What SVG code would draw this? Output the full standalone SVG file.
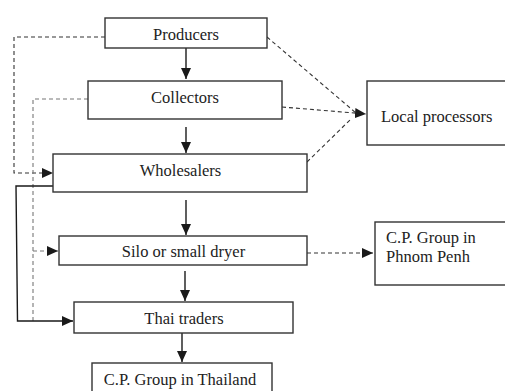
<svg xmlns="http://www.w3.org/2000/svg" width="505" height="391" viewBox="0 0 505 391">
<defs>
<marker id="ah" markerUnits="userSpaceOnUse" markerWidth="12" markerHeight="10" refX="11" refY="5" orient="auto">
<path d="M0,0 L11,5 L0,10 Z" fill="#1a1a1a"/>
</marker>
</defs>
<style>
.box{fill:#fff;stroke:#333;stroke-width:1.4}
.t{font-family:"Liberation Serif","Times New Roman",serif;font-size:16.5px;fill:#222}
.c{text-anchor:middle}
.s{fill:none;stroke:#1a1a1a;stroke-width:1.4}
.d{fill:none;stroke:#333;stroke-width:1.1;stroke-dasharray:4 3}
.g{fill:none;stroke:#777;stroke-width:1.1;stroke-dasharray:4 3}
</style>
<rect width="505" height="391" fill="#fff"/>
<g id="connectors">
<line class="s" x1="186" y1="48" x2="186" y2="79" marker-end="url(#ah)"/>
<line class="s" x1="186" y1="127" x2="186" y2="153" marker-end="url(#ah)"/>
<line class="s" x1="186" y1="200" x2="186" y2="235" marker-end="url(#ah)"/>
<line class="s" x1="185" y1="271" x2="185" y2="301" marker-end="url(#ah)"/>
<line class="s" x1="182" y1="333" x2="182" y2="362" marker-end="url(#ah)"/>
<path class="d" d="M267,37 L356,113"/>
<path class="d" d="M282,107 L366,114" marker-end="url(#ah)"/>
<path class="d" d="M307,162 L352,118"/>
<path class="d" d="M307,253 L373,253" marker-end="url(#ah)"/>
<path class="d" d="M105,37 L14,37 L14,173 L53,173" marker-end="url(#ah)"/>
<path class="g" d="M88,99 L33,99 L33,321"/>
<path class="g" d="M33,251 L58,251" marker-end="url(#ah)"/>
<path class="s" d="M53,186 L16,186 L17.5,321 L73,321" marker-end="url(#ah)"/>
</g>
<g id="producers">
<rect class="box" x="105" y="18" width="162" height="30"/>
<text class="t c" x="186" y="39.5">Producers</text>
</g>
<g id="collectors">
<rect class="box" x="88" y="81" width="194" height="38"/>
<text class="t c" x="185" y="102.5">Collectors</text>
</g>
<g id="local-processors">
<rect class="box" x="367" y="81" width="145" height="64"/>
<text class="t" x="381" y="122">Local processors</text>
</g>
<g id="wholesalers">
<rect class="box" x="53" y="154" width="254" height="38"/>
<text class="t c" x="180.5" y="176">Wholesalers</text>
</g>
<g id="silo">
<rect class="box" x="59" y="236" width="248" height="29"/>
<text class="t c" x="183.5" y="257">Silo or small dryer</text>
</g>
<g id="cp-phnom-penh">
<rect class="box" x="375" y="222" width="140" height="63"/>
<text class="t" x="386" y="243">C.P. Group in</text>
<text class="t" x="386" y="262">Phnom Penh</text>
</g>
<g id="thai-traders">
<rect class="box" x="74" y="302" width="219" height="31"/>
<text class="t c" x="184" y="324">Thai traders</text>
</g>
<g id="cp-thailand">
<rect class="box" x="92" y="363" width="180" height="40"/>
<text class="t c" x="180" y="385">C.P. Group in Thailand</text>
</g>
</svg>
